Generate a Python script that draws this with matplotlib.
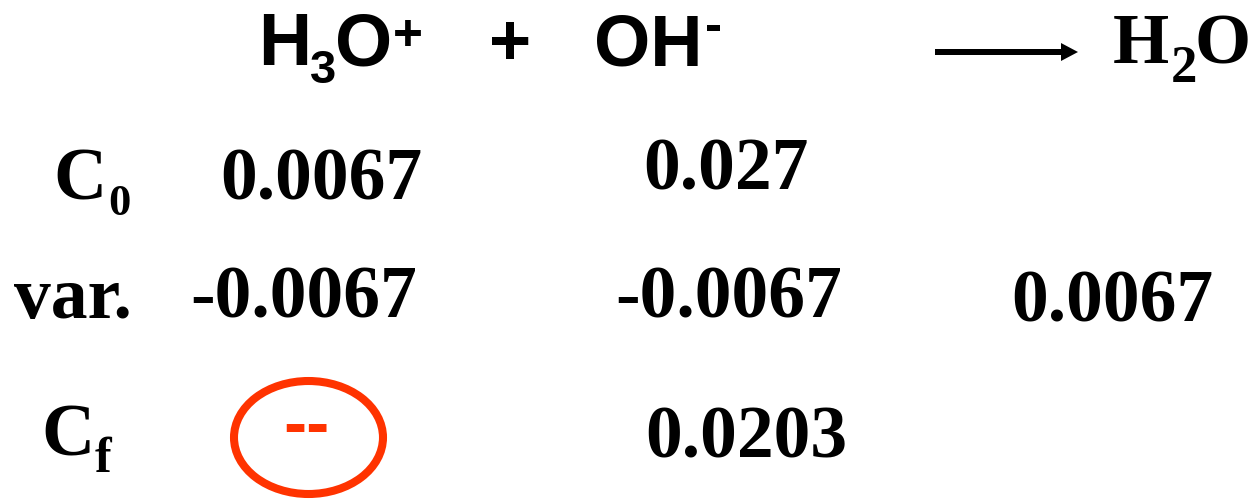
import matplotlib
matplotlib.use("Agg")
import matplotlib.pyplot as plt
from matplotlib.patches import Ellipse, FancyArrow

# reaction: H3O+ + OH- -> H2O, pieces are (text, kind)
species = [
    [("H", "n"), ("3", "sub"), ("O", "n"), ("+", "sup")],
    [("OH", "n"), ("-", "sup")],
    [("H", "n"), ("2", "sub"), ("O", "n")],
]
row_labels = [("C", "0"), ("var.", ""), ("C", "f")]
c0_values = ["0.0067", "0.027", ""]
var_values = ["-0.0067", "-0.0067", "0.0067"]
cf_values = ["--", "0.0203", ""]

SANS = "Liberation Sans"
SERIF = "Liberation Serif"
RED = "#ff3300"

fig = plt.figure(figsize=(12.55, 4.99), dpi=100)
ax = fig.add_axes([0, 0, 1, 1])
ax.set_xlim(0, 1255)
ax.set_ylim(499, 0)
ax.axis("off")


def put(x, y, s, family=SERIF, size=53, color="black"):
    ax.text(x, y, s, family=family, size=size, weight="bold", color=color,
            ha="left", va="baseline")


# header row: piece x positions, family, main size, sub size, baseline, sub/sup shift
header_x = [[258, 310, 335, 393], [594, 705], [1113, 1171, 1194]]
header_style = [
    (SANS, 53, 34, 65, 18, -15),
    (SANS, 52, 37, 65, 0, -24),
    (SERIF, 52, 38, 63, 19, 0),
]
for parts, xs, (fam, big, small, base, dsub, dsup) in zip(species, header_x, header_style):
    for (txt, kind), x in zip(parts, xs):
        if kind == "n":
            put(x, base, txt, fam, big)
        elif kind == "sub":
            put(x, base + dsub, txt, fam, small)
        else:
            put(x, base + dsup, txt, fam, 37)

# plus sign between reactants
put(489, 65, "+", SANS, 52)

# reaction arrow
ax.add_patch(FancyArrow(935, 52, 143, 0, width=6, head_width=18, head_length=17,
                        length_includes_head=True, color="black", lw=0))

# row labels
label_pos = [(53, 200, 108, 215, 32), (14, 318, 0, 0, 0), (41, 455, 95, 472, 36)]
for (lab, sub), (x, y, sx, sy, ss) in zip(row_labels, label_pos):
    put(x, y, lab)
    if sub:
        put(sx, sy, sub, SERIF, ss)

# values
c0_pos = [(220, 200), (643, 190)]
var_pos = [(190, 318), (615, 318), (1011, 322)]
cf_pos = [(645, 458)]

for v, (x, y) in zip(c0_values, c0_pos):
    put(x, y, v)
for v, (x, y) in zip(var_values, var_pos):
    put(x, y, v)

# final concentration of H3O+ is consumed: red dashes circled
put(283, 446, cf_values[0], SANS, 50, RED)
ax.add_patch(Ellipse((308.5, 437.5), 149, 113, fill=False, ec=RED, lw=5.8))
put(cf_pos[0][0], cf_pos[0][1], cf_values[1])

plt.savefig("out.png", dpi=100)
